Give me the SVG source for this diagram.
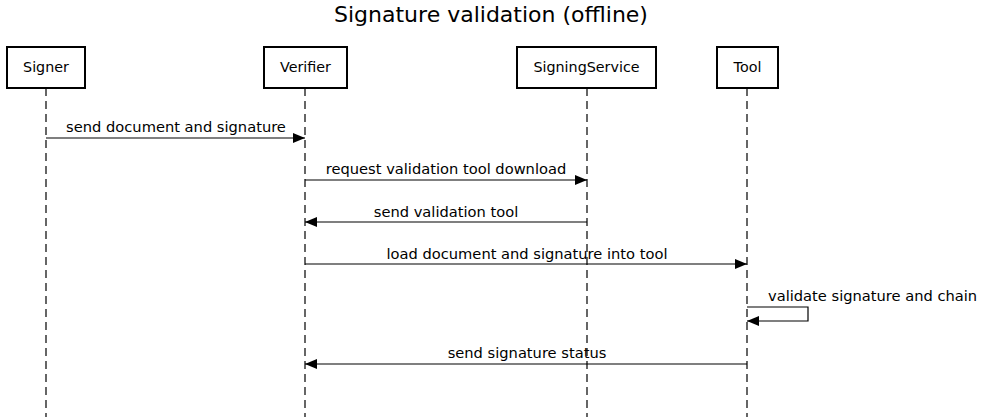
<svg xmlns="http://www.w3.org/2000/svg" width="984" height="417" viewBox="0 0 984 417">
<style>
text{font-family:"DejaVu Sans",sans-serif;fill:#000}
.t{font-size:22px;text-anchor:middle}
.n{font-size:14.3px;text-anchor:middle}
.m{font-size:14.67px;text-anchor:middle}
.box{fill:#fff;stroke:#000;stroke-width:2}
.life{stroke:#000;stroke-width:1.2;stroke-dasharray:8,5;fill:none}
.msg{stroke:#000;stroke-width:1.2;fill:none}
</style>
<defs>
<marker id="ah" viewBox="0 0 12 10" refX="12" refY="5" markerWidth="12" markerHeight="10" markerUnits="userSpaceOnUse" orient="auto">
<path d="M0,0 L12,5 L0,10 Z" fill="#000"/>
</marker>
</defs>
<rect width="984" height="417" fill="#fff"/>
<text class="t" x="491" y="22">Signature validation (offline)</text>
<g id="lifelines">
<line class="life" x1="46" y1="88" x2="46" y2="417"/>
<line class="life" x1="305" y1="88" x2="305" y2="417"/>
<line class="life" x1="587" y1="88" x2="587" y2="417"/>
<line class="life" x1="747" y1="88" x2="747" y2="417"/>
</g>
<g id="Signer"><rect class="box" x="7" y="47" width="78" height="41"/><text class="n" x="46" y="72">Signer</text></g>
<g id="Verifier"><rect class="box" x="264" y="47" width="83" height="41"/><text class="n" x="305.5" y="72">Verifier</text></g>
<g id="SigningService"><rect class="box" x="517" y="47" width="139" height="41"/><text class="n" x="586.5" y="72">SigningService</text></g>
<g id="Tool"><rect class="box" x="717" y="47" width="61" height="41"/><text class="n" x="747.5" y="72">Tool</text></g>
<g id="connectors">
<line class="msg" x1="46" y1="138" x2="305" y2="138" marker-end="url(#ah)"/>
<text class="m" x="176" y="132">send document and signature</text>
<line class="msg" x1="305" y1="180" x2="587" y2="180" marker-end="url(#ah)"/>
<text class="m" x="446" y="174">request validation tool download</text>
<line class="msg" x1="587" y1="222" x2="305" y2="222" marker-end="url(#ah)"/>
<text class="m" x="446" y="217">send validation tool</text>
<line class="msg" x1="305" y1="264" x2="747" y2="264" marker-end="url(#ah)"/>
<text class="m" x="527" y="259">load document and signature into tool</text>
<path class="msg" d="M747,307 H808 V321 H747" marker-end="url(#ah)"/>
<text x="768" y="301" style="font-size:14.67px">validate signature and chain</text>
<line class="msg" x1="747" y1="364" x2="305" y2="364" marker-end="url(#ah)"/>
<text class="m" x="527" y="358">send signature status</text>
</g>
</svg>
